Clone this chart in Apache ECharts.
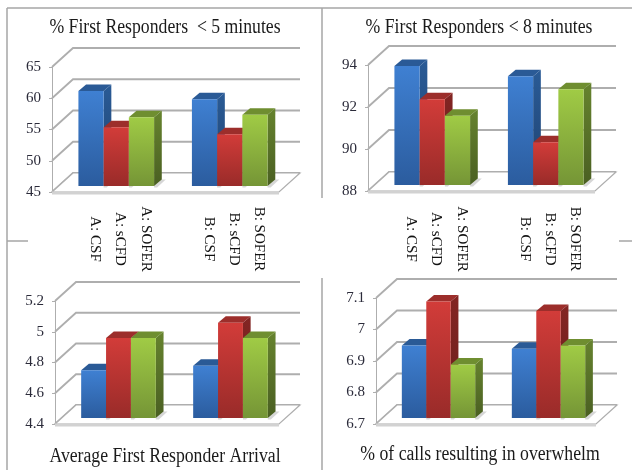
<!DOCTYPE html>
<html>
<head>
<meta charset="utf-8">
<style>
body { margin: 0; background: #fff; }
#main { width: 632px; height: 470px; }
</style>
<script src="https://cdn.jsdelivr.net/npm/echarts@6/dist/echarts.min.js"></script>
</head>
<body>
<div id="main"></div>
<script>
var groups = ['A', 'B'];
var methods = ['CSF', 'sCFD', 'SOFER'];

// % First Responders < 5 minutes
var under5Csf = [60.2, 58.9];
var under5Sfd = [54.4, 53.3];
var under5Sofer = [56.0, 56.4];
var under5Ticks = [45, 50, 55, 60, 65];

// % First Responders < 8 minutes
var under8Csf = [93.67, 93.18];
var under8Sfd = [92.08, 90.03];
var under8Sofer = [91.3, 92.56];
var under8Ticks = [88, 90, 92, 94];

// Average First Responder Arrival
var arrivalCsf = [4.71, 4.74];
var arrivalSfd = [4.92, 5.02];
var arrivalSofer = [4.92, 4.92];
var arrivalTicks = [4.4, 4.6, 4.8, 5, 5.2];

// % of calls resulting in overwhelm
var overwhelmCsf = [6.93, 6.92];
var overwhelmSfd = [7.07, 7.04];
var overwhelmSofer = [6.87, 6.93];
var overwhelmTicks = [6.7, 6.8, 6.9, 7, 7.1];

var charts = [
    { title: '% First Responders  < 5 minutes', titleX: 165, titleY: 27.5,
      rect: [52, 67, 227, 125], values: [under5Csf, under5Sfd, under5Sofer], ticks: under5Ticks, interval: 5, labels: true },
    { title: '% First Responders < 8 minutes', titleX: 479, titleY: 27.5,
      rect: [368, 65, 227, 126], values: [under8Csf, under8Sfd, under8Sofer], ticks: under8Ticks, interval: 2, labels: true },
    { title: 'Average First Responder Arrival', titleX: 165, titleY: 457,
      rect: [55, 301, 224, 123], values: [arrivalCsf, arrivalSfd, arrivalSofer], ticks: arrivalTicks, interval: 0.2, labels: false },
    { title: '% of calls resulting in overwhelm', titleX: 480, titleY: 455,
      rect: [376, 298, 220, 126], values: [overwhelmCsf, overwhelmSfd, overwhelmSofer], ticks: overwhelmTicks, interval: 0.1, labels: false }
];

var wallColor = '#aeaeae';
var depthX = 21, depthY = -19; //墙的进深
var barOffX = 7.5, barOffY = -6; //柱子离前沿的距离
var barDepthX = 7.7, barDepthY = -6.5; //柱子自身进深

var barColors = [
    { front: ['#3f80d2', '#2b5c9e'], top: '#2a5a96', side: ['#2a5b96', '#1f4270'] },
    { front: ['#d23c39', '#992b29'], top: '#9c2e2b', side: ['#832523', '#6a1e1c'] },
    { front: ['#a0cb45', '#759536'], top: '#6f8e30', side: ['#66832e', '#4a5f22'] }
];

function gradient(c) {
    return new echarts.graphic.LinearGradient(0, 0, 0, 1, [
        { offset: 0, color: c[0] },
        { offset: 1, color: c[1] }
    ]);
}

// 网格线，带左侧斜线
function renderWall(params, api) {
    var sys = params.coordSys;
    var y = api.coord([0, api.value(0)])[1];
    return {
        type: 'polyline',
        shape: { points: [[sys.x, y], [sys.x + depthX, y + depthY], [sys.x + sys.width + depthX, y + depthY]] },
        style: { stroke: wallColor, lineWidth: 1.8, fill: null }
    };
}

// 地板
function renderFloor(params, api) {
    var sys = params.coordSys;
    var y = api.coord([0, api.value(0)])[1];
    return {
        type: 'group',
        children: [{
            type: 'polygon',
            shape: { points: [[sys.x, y], [sys.x + depthX, y + depthY], [sys.x + sys.width + depthX, y + depthY], [sys.x + sys.width, y]] },
            style: { fill: '#fff', stroke: wallColor, lineWidth: 1.2 }
        }, {
            type: 'line',
            shape: { x1: sys.x, y1: y + 1, x2: sys.x + sys.width, y2: y + 1 },
            style: { stroke: '#d2d2d2', lineWidth: 3 }
        }]
    };
}

function makeBarRender(methodIndex, chart) {
    var base = chart.ticks[0];
    var color = barColors[methodIndex];
    return function (params, api) {
        var g = api.value(0);
        var band = api.size([1, 0])[0];
        var w = band / 4.5;
        var top = api.coord([g, api.value(1)]);
        var bottomY = api.coord([g, base])[1] + barOffY;
        var x = top[0] + (methodIndex - 1.5) * w + barOffX;
        var topY = top[1] + barOffY;
        var children = [{
            type: 'polygon',
            shape: { points: [[x + w, bottomY], [x + w + barDepthX, bottomY + barDepthY], [x + w + barDepthX + 4, bottomY + barDepthY], [x + w + 3, bottomY + 1.5], [x + w, bottomY + 1.5]] },
            style: { fill: 'rgba(0,0,0,0.16)' }
        }, {
            type: 'polygon',
            shape: { points: [[x, topY], [x + barDepthX, topY + barDepthY], [x + w + barDepthX, topY + barDepthY], [x + w, topY]] },
            style: { fill: color.top }
        }, {
            type: 'polygon',
            shape: { points: [[x + w, topY], [x + w + barDepthX, topY + barDepthY], [x + w + barDepthX, bottomY + barDepthY], [x + w, bottomY]] },
            style: { fill: gradient(color.side) }
        }, {
            type: 'rect',
            shape: { x: x, y: topY, width: w, height: bottomY - topY },
            style: { fill: gradient(color.front) }
        }];
        if (chart.labels) {
            children.push({
                type: 'text',
                x: x + w / 2 + 4,
                y: 239,
                rotation: -Math.PI / 2,
                style: {
                    text: groups[g] + ': ' + methods[methodIndex],
                    font: '15px "Liberation Serif"',
                    fill: '#111',
                    textAlign: 'center',
                    textVerticalAlign: 'middle'
                }
            });
        }
        return { type: 'group', children: children };
    };
}

var option = { animation: false, backgroundColor: '#fff', grid: [], xAxis: [], yAxis: [], series: [], graphic: [] };

charts.forEach(function (chart, i) {
    // 标题比字体窄，用 scaleX 压一下
    option.graphic.push({
        type: 'text',
        silent: true,
        x: chart.titleX,
        y: chart.titleY,
        scaleX: 0.885,
        style: {
            text: chart.title,
            font: '20px "Liberation Serif"',
            fill: '#1a1a1a',
            textAlign: 'center',
            textVerticalAlign: 'middle'
        }
    });
    option.grid.push({ left: chart.rect[0], top: chart.rect[1], width: chart.rect[2], height: chart.rect[3] });
    option.xAxis.push({ gridIndex: i, type: 'category', data: groups, show: false });
    option.yAxis.push({
        gridIndex: i,
        type: 'value',
        min: chart.ticks[0],
        max: chart.ticks[chart.ticks.length - 1],
        interval: chart.interval,
        splitLine: { show: false },
        axisLine: { show: true, lineStyle: { color: wallColor, width: 1 } },
        axisTick: { show: true, length: 3, lineStyle: { color: wallColor } },
        axisLabel: { margin: 11, padding: [4, 0, 0, 0], fontFamily: 'Liberation Serif', fontSize: 15, color: '#2b2b3a' }
    });
    option.series.push({
        type: 'custom', xAxisIndex: i, yAxisIndex: i, silent: true, z: 1, clip: false,
        data: chart.ticks.map(function (t) { return [t]; }),
        encode: { y: 0 },
        renderItem: renderWall
    });
    option.series.push({
        type: 'custom', xAxisIndex: i, yAxisIndex: i, silent: true, z: 2, clip: false,
        data: [[chart.ticks[0]]],
        encode: { y: 0 },
        renderItem: renderFloor
    });
    chart.values.forEach(function (vals, m) {
        option.series.push({
            type: 'custom', name: methods[m], xAxisIndex: i, yAxisIndex: i, silent: true, z: 3 + m, clip: false,
            data: vals.map(function (v, g) { return [g, v]; }),
            encode: { x: 0, y: 1 },
            renderItem: makeBarRender(m, chart)
        });
    });
});

// 外框线
var frameLines = [
    [7, 8, 632, 8], [7, 8, 7, 470],
    [322, 8, 322, 198], [322, 278, 322, 470],
    [7, 241, 28, 241], [619, 241, 632, 241]
];
frameLines.forEach(function (l) {
    option.graphic.push({ type: 'line', silent: true, shape: { x1: l[0], y1: l[1], x2: l[2], y2: l[3] }, style: { stroke: '#a6a6a6', lineWidth: 1.5 } });
});

var myChart = echarts.init(document.getElementById('main'));
myChart.setOption(option);
</script>
</body>
</html>
